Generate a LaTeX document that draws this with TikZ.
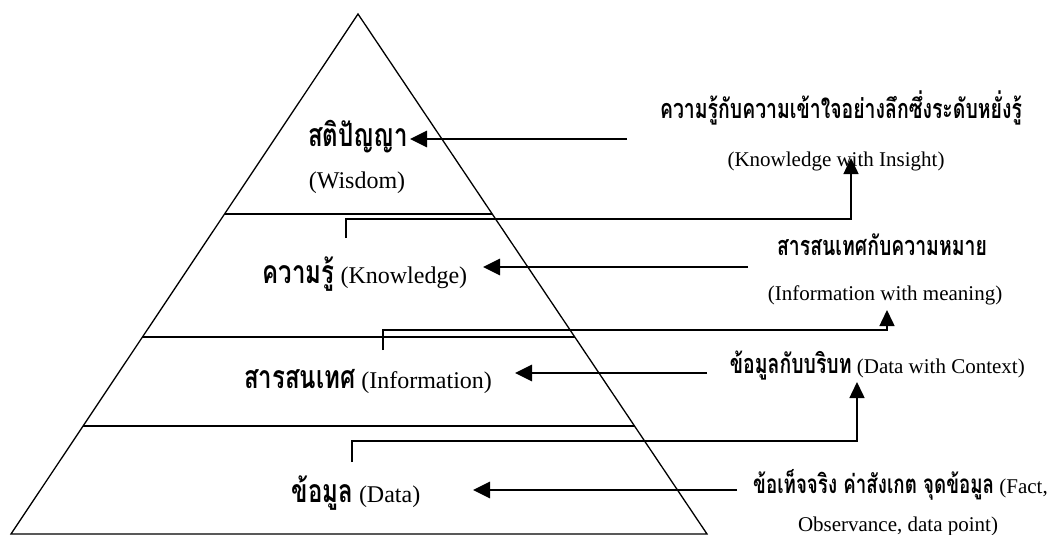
\documentclass[tikz,border=0pt]{standalone}
\usepackage{fontspec}
\setmainfont{Liberation Serif}
\newfontfamily\thai[Script=Thai, FakeStretch=0.75]{Loma}
\newfontfamily\thainote[Script=Thai, FakeStretch=0.72]{Loma}
\newcommand\thlevel[1]{{\thai\bfseries\fontsize{32}{36}\selectfont #1}}
\newcommand\thdesc[2][27]{{\thainote\bfseries\fontsize{#1}{#1}\selectfont #2}}
\usetikzlibrary{arrows.meta,calc}
\begin{document}
\begin{tikzpicture}[x=1pt,y=-1pt,
  edge/.style={line width=1.3pt, line join=miter},
  divider/.style={line width=1.4pt},
  link/.style={line width=1.5pt, -{Triangle[length=16pt,width=15pt]}},
  feed/.style={line width=2.8pt, -{Triangle[length=17pt,width=16pt]}},
  lab/.style={font=\fontsize{24}{28}\selectfont, inner sep=0pt, anchor=base},
  note/.style={font=\fontsize{21}{25}\selectfont, inner sep=0pt, anchor=base},
]
\useasboundingbox (0,0) rectangle (1060,535);

% pyramid outline
\coordinate (apex) at (358,14);
\coordinate (bl) at (11,534);
\coordinate (br) at (707,534);
\draw[edge] (bl) -- (apex) -- (br) -- cycle;

% level dividers
\coordinate (d1l) at ($(apex)!0.3846!(bl)$);
\coordinate (d1r) at ($(apex)!0.3846!(br)$);
\coordinate (d2l) at ($(apex)!0.6212!(bl)$);
\coordinate (d2r) at ($(apex)!0.6212!(br)$);
\coordinate (d3l) at ($(apex)!0.7923!(bl)$);
\coordinate (d3r) at ($(apex)!0.7923!(br)$);
\draw[divider] (d1l) -- (d1r);
\draw[divider] (d2l) -- (d2r);
\draw[divider] (d3l) -- (d3r);

% level labels
\node[lab] (wis-th) at (358,146) {\thlevel{สติปัญญา}};
\node[lab] (wis-en) at (357,188) {(Wisdom)};
\node[lab] (know) at (365,283) {\thlevel{ความรู้} (Knowledge)};
\node[lab] (info) at (368,388) {\thlevel{สารสนเทศ} (Information)};
\node[lab] (data) at (356,502) {\thlevel{ข้อมูล} (Data)};

% descriptions on the right
\node[note] (insight-th) at (841,118) {\thdesc{ความรู้กับความเข้าใจอย่างลึกซึ่งระดับหยั่งรู้}};
\node[note] (insight-en) at (836,166) {(Knowledge with Insight)};
\node[note] (meaning-th) at (882,255) {\thdesc{สารสนเทศกับความหมาย}};
\node[note] (meaning-en) at (885,300) {(Information with meaning)};
\node[note, anchor=base east] (context) at (1025,373) {\thdesc{ข้อมูลกับบริบท} (Data with Context)};
\node[note, anchor=base east] (fact) at (1048,493) {\thdesc[26]{ข้อเท็จจริง ค่าสังเกต จุดข้อมูล} (Fact,};
\node[note] (observe) at (898,531) {Observance, data point)};

% arrows from descriptions into the levels
\coordinate (w-tail) at (627,139);  \coordinate (w-tip) at (410,139);
\coordinate (k-tail) at (748,267);  \coordinate (k-tip) at (483,267);
\coordinate (i-tail) at (707,373);  \coordinate (i-tip) at (515,373);
\coordinate (d-tail) at (737,490);  \coordinate (d-tip) at (473,490);
\draw[feed] (w-tail) -- (w-tip);
\draw[feed] (k-tail) -- (k-tip);
\draw[feed] (i-tail) -- (i-tip);
\draw[feed] (d-tail) -- (d-tip);

% elbow links from each level up to the next description
\coordinate (k-start) at (346,238); \coordinate (k-turn) at (851,219); \coordinate (k-end) at (851,158);
\coordinate (i-start) at (383,350); \coordinate (i-turn) at (887,330); \coordinate (i-end) at (887,310);
\coordinate (d-start) at (352,462); \coordinate (d-turn) at (857,441); \coordinate (d-end) at (857,382);
\draw[link] (k-start) |- (k-turn) -- (k-end);
\draw[link] (i-start) |- (i-turn) -- (i-end);
\draw[link] (d-start) |- (d-turn) -- (d-end);
\end{tikzpicture}
\end{document}
